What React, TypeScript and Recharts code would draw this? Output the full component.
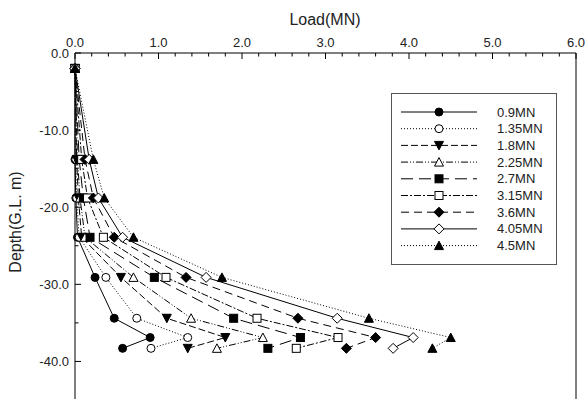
import React from 'react';
import { ScatterChart, Scatter, XAxis, YAxis, ReferenceLine } from 'recharts';

// depth of each gauge level (m below G.L.)
const depths = [-2, -13.8, -18.8, -23.9, -29.1, -34.4, -36.9, -38.3];

// axial load at each depth for every applied load step
const load09 = [0, 0, 0.01, 0.03, 0.24, 0.47, 0.9, 0.57];
const load135 = [0, 0.01, 0.02, 0.05, 0.37, 0.74, 1.35, 0.91];
const load18 = [0, 0.02, 0.04, 0.08, 0.55, 1.1, 1.8, 1.35];
const load225 = [0, 0.03, 0.06, 0.12, 0.7, 1.39, 2.25, 1.7];
const load27 = [0, 0.05, 0.1, 0.18, 0.95, 1.9, 2.7, 2.31];
const load315 = [0, 0.08, 0.15, 0.34, 1.09, 2.18, 3.15, 2.65];
const load36 = [0, 0.12, 0.22, 0.47, 1.33, 2.67, 3.6, 3.25];
const load405 = [0, 0.17, 0.28, 0.57, 1.57, 3.14, 4.05, 3.81];
const load45 = [0, 0.22, 0.35, 0.7, 1.76, 3.52, 4.5, 4.28];

const seriesNames = ['0.9MN', '1.35MN', '1.8MN', '2.25MN', '2.7MN', '3.15MN', '3.6MN', '4.05MN', '4.5MN'];
const seriesLoads = [load09, load135, load18, load225, load27, load315, load36, load405, load45];

const xMajor = [0, 1, 2, 3, 4, 5, 6];
const yMajor = [0, -10, -20, -30, -40];

const xTicks = Array.from({ length: 31 }, (_, i) => Math.round(i * 2) / 10);
const yTicks = Array.from({ length: 9 }, (_, i) => -i * 5);

type Kind = 'circle' | 'circleOpen' | 'triDown' | 'triOpen' | 'square' | 'squareOpen' | 'diamond' | 'diamondOpen' | 'triUp';

const styles: { kind: Kind; dash?: string }[] = [
  { kind: 'circle' },
  { kind: 'circleOpen', dash: '1 2' },
  { kind: 'triDown', dash: '7 3' },
  { kind: 'triOpen', dash: '7 2 1 2 1 2' },
  { kind: 'square', dash: '12 6' },
  { kind: 'squareOpen', dash: '7 2 2 2' },
  { kind: 'diamond', dash: '8 5' },
  { kind: 'diamondOpen' },
  { kind: 'triUp', dash: '1 2' },
];

const FONT = 'Arial, "Liberation Sans", sans-serif';

function Marker({ kind, cx, cy }: { kind: Kind; cx: number; cy: number }) {
  const open = kind.endsWith('Open');
  const fill = open ? '#fff' : '#000';
  const common = { fill, stroke: '#000', strokeWidth: 1 };
  if (kind === 'circle' || kind === 'circleOpen') return <circle cx={cx} cy={cy} r={4} {...common} />;
  if (kind === 'square' || kind === 'squareOpen') return <rect x={cx - 4} y={cy - 4} width={8} height={8} {...common} />;
  if (kind === 'diamond' || kind === 'diamondOpen')
    return <polygon points={`${cx},${cy - 5} ${cx + 5},${cy} ${cx},${cy + 5} ${cx - 5},${cy}`} {...common} />;
  if (kind === 'triDown')
    return <polygon points={`${cx - 4.5},${cy - 4} ${cx + 4.5},${cy - 4} ${cx},${cy + 4.5}`} {...common} />;
  return <polygon points={`${cx - 4.5},${cy + 4} ${cx + 4.5},${cy + 4} ${cx},${cy - 4.5}`} {...common} />;
}

const XTick = (props: any) => {
  const { x, y, payload } = props;
  const major = xMajor.some((v) => Math.abs(v - payload.value) < 1e-6);
  const axisY = y + 6;
  return (
    <g>
      <line x1={x} x2={x} y1={axisY} y2={axisY + (major ? 6 : 3.5)} stroke="#000" />
      {major && (
        <text x={x} y={y} textAnchor="middle" fontSize={13} fontFamily={FONT} fill="#222">
          {payload.value.toFixed(1)}
        </text>
      )}
    </g>
  );
};

const YTick = (props: any) => {
  const { x, y, payload } = props;
  const major = yMajor.includes(payload.value);
  const axisX = x + 6;
  return (
    <g>
      <line x1={axisX} x2={axisX + (major ? 6 : 3.5)} y1={y} y2={y} stroke="#000" />
      {major && (
        <text x={x} y={y + 4.5} textAnchor="end" fontSize={13} fontFamily={FONT} fill="#222">
          {payload.value.toFixed(1)}
        </text>
      )}
    </g>
  );
};

export default function App() {
  const data = seriesLoads.map((loads) => loads.map((v, i) => ({ x: v, y: depths[i] })));

  return (
    <div style={{ position: 'absolute', left: 0, top: 0, width: 585, height: 399, background: '#fff', overflow: 'hidden' }}>
      <ScatterChart width={585} height={400} margin={{ top: 23, right: 9, bottom: 0, left: 0 }}>
        <XAxis
          type="number"
          dataKey="x"
          orientation="top"
          domain={[0, 6]}
          ticks={xTicks}
          interval={0}
          height={30}
          tickSize={0}
          tickMargin={6}
          tickLine={false}
          axisLine={{ stroke: '#000' }}
          tick={<XTick />}
        />
        <YAxis
          type="number"
          dataKey="y"
          domain={[-45, 0]}
          ticks={yTicks}
          interval={0}
          width={75}
          tickSize={0}
          tickMargin={6}
          tickLine={false}
          axisLine={{ stroke: '#000' }}
          tick={<YTick />}
        />
        <ReferenceLine x={6} stroke="#000" />
        {data.map((d, i) => (
          <Scatter
            key={seriesNames[i]}
            name={seriesNames[i]}
            data={d}
            isAnimationActive={false}
            line={{ stroke: '#000', strokeWidth: 1, strokeDasharray: styles[i].dash }}
            lineType="joint"
            shape={(p: any) => <Marker kind={styles[i].kind} cx={p.cx} cy={p.cy} />}
          />
        ))}
      </ScatterChart>

      <svg width={585} height={399} style={{ position: 'absolute', left: 0, top: 0, pointerEvents: 'none' }}>
        <text x={325} y={25} textAnchor="middle" fontSize={16} fontFamily={FONT} fill="#222">
          Load(MN)
        </text>
        <text
          x={21}
          y={222}
          textAnchor="middle"
          fontSize={16}
          fontFamily={FONT}
          fill="#222"
          transform="rotate(-90 21 222)"
        >
          Depth(G.L. m)
        </text>

        {/* legend */}
        <rect x={391.5} y={93.5} width={165} height={171} fill="#fff" stroke="#555" />
        {seriesNames.map((name, i) => {
          const cy = 112 + i * 16.7;
          return (
            <g key={name}>
              <line x1={401} x2={477} y1={cy} y2={cy} stroke="#000" strokeDasharray={styles[i].dash} />
              <Marker kind={styles[i].kind} cx={439} cy={cy} />
              <text x={497} y={cy + 4.5} fontSize={13} fontFamily={FONT} fill="#222">
                {name}
              </text>
            </g>
          );
        })}
      </svg>
    </div>
  );
}
